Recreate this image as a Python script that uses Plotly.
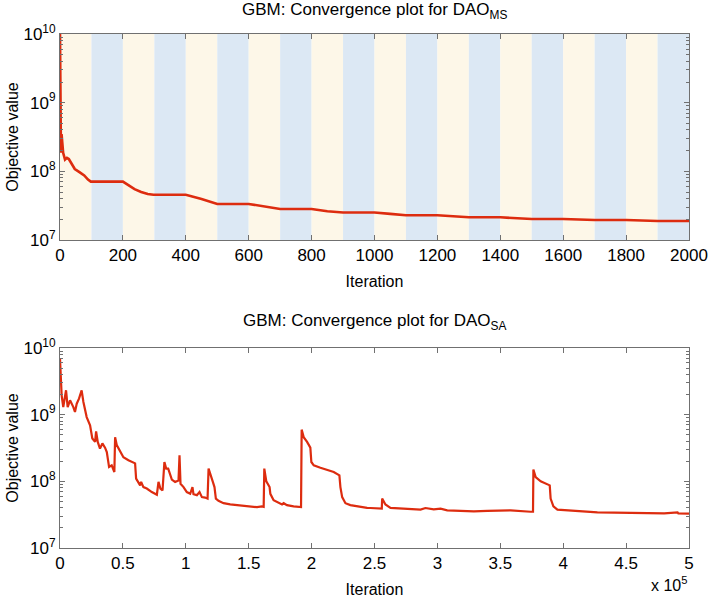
import plotly.graph_objects as go

# ---------------- data ----------------
ms_iter = [0, 3, 5, 8, 10, 16, 22, 28, 37, 47, 63, 77, 89, 98, 200, 216, 237, 258, 279, 297,
           400, 450, 500, 600, 650, 700, 800, 850, 900, 1000, 1050, 1100, 1200, 1250, 1300,
           1400, 1450, 1500, 1600, 1650, 1700, 1800, 1850, 1900, 2000]
ms_obj = [1e10, 1.86e8, 3.47e8, 2.6e8, 1.86e8, 1.48e8, 1.57e8, 1.51e8, 1.26e8, 1.08e8, 9.66e7,
          8.71e7, 7.59e7, 7.08e7, 7.08e7, 6.38e7, 5.5e7, 5.01e7, 4.68e7, 4.55e7,
          4.55e7, 3.96e7, 3.35e7, 3.35e7, 3.06e7, 2.83e7, 2.83e7, 2.62e7, 2.51e7, 2.51e7,
          2.40e7, 2.29e7, 2.29e7, 2.19e7, 2.14e7, 2.14e7, 2.07e7, 2.02e7, 2.02e7, 1.98e7,
          1.96e7, 1.96e7, 1.91e7, 1.89e7, 1.89e7]

sa_iter = [0, 500, 1300, 2600, 4800, 6100, 8000, 10600, 11900, 13300, 15100, 17200, 18600,
           21200, 23900, 25700, 27900, 28700, 30000, 31800, 33700, 35800, 37200, 39000, 41100,
           43200, 43800, 45100, 47800, 50400, 54400, 57600, 59700, 60500, 61800, 63700, 64500,
           66300, 69000, 73000, 77000, 78300, 79800, 81500, 83000, 84400, 86000, 87600, 88900,
           91500, 94200, 95000, 95800, 98200, 100800, 103500, 105300, 106100, 108800, 110900,
           112800, 115400, 117300, 118100, 119900, 121500, 122800, 123900, 126000, 130000,
           135300, 140600, 148600, 156600, 160500, 161900, 162400, 164000, 166600, 167200,
           169800, 173800, 176500, 177800, 180400, 185700, 191600, 192100, 193700, 196400,
           199000, 199800, 201700, 207000, 212300, 217600, 222100, 222900, 224300, 226900,
           230800, 236200, 244100, 246800, 254700, 255800, 256100, 258700, 262700, 270600,
           278600, 286600, 290500, 297100, 302500, 307800, 318400, 329000, 339600, 344900,
           358200, 374100, 376000, 376300, 378100, 382100, 386100, 389300, 390000, 392200,
           395400, 403300, 413900, 427200, 440500, 453700, 467000, 480300, 490900, 491500,
           500000]
sa_obj = [6.9e9, 3.1e9, 1.95e9, 1.3e9, 2.32e9, 1.3e9, 1.64e9, 1.3e9, 1.1e9, 1.46e9, 1.74e9,
          2.32e9, 1.55e9, 9.2e8, 6.9e8, 4.4e8, 3.9e8, 5.6e8, 3.9e8, 3.1e8, 3.7e8, 3.2e8,
          2.75e8, 1.64e8, 1.74e8, 1.38e8, 4.6e8, 3.5e8, 2.75e8, 2.3e8, 2.07e8, 1.95e8, 1.86e8,
          1.1e8, 9.8e7, 8.7e7, 9.8e7, 8.2e7, 7.8e7, 6.9e7, 6.3e7, 9.8e7, 7.8e7, 7.3e7, 1.95e8,
          1.55e8, 1.55e8, 1.3e8, 1.06e8, 9.8e7, 1.03e8, 2.45e8, 9.2e7, 8.2e7, 6.9e7, 6.5e7,
          8.2e7, 6.4e7, 6.2e7, 6.9e7, 5.8e7, 5.7e7, 5.5e7, 1.55e8, 1.16e8, 9.8e7, 8.2e7,
          5.5e7, 5.1e7, 4.7e7, 4.5e7, 4.4e7, 4.2e7, 4.1e7, 4.2e7, 4.15e7, 1.55e8, 1.0e8,
          8.2e7, 6.5e7, 5.2e7, 4.7e7, 4.5e7, 4.7e7, 4.4e7, 4.2e7, 4.1e7, 5.96e8, 4.6e8,
          3.9e8, 3.2e8, 1.95e8, 1.74e8, 1.6e8, 1.5e8, 1.38e8, 1.23e8, 8.2e7, 5.8e7, 4.7e7,
          4.4e7, 4.2e7, 4.0e7, 3.98e7, 3.9e7, 3.9e7, 5.5e7, 4.5e7, 4.0e7, 3.9e7, 3.8e7,
          3.76e7, 3.98e7, 3.8e7, 3.9e7, 3.67e7, 3.6e7, 3.55e7, 3.6e7, 3.6e7, 3.67e7, 3.5e7,
          3.5e7, 1.5e8, 1.16e8, 1.0e8, 9.2e7, 8.7e7, 5.5e7, 4.2e7, 3.76e7, 3.67e7, 3.5e7,
          3.43e7, 3.39e7, 3.35e7, 3.35e7, 3.31e7, 3.43e7, 3.31e7, 3.27e7]

ytick_vals = [1e7, 1e8, 1e9, 1e10]
ytick_text = ["10<sup>7</sup>", "10<sup>8</sup>", "10<sup>9</sup>", "10<sup>10</sup>"]
ms_xticks = [0, 200, 400, 600, 800, 1000, 1200, 1400, 1600, 1800, 2000]
sa_xticks = [0, 50000, 100000, 150000, 200000, 250000, 300000, 350000, 400000, 450000, 500000]
sa_xtext = ["0", "0.5", "1", "1.5", "2", "2.5", "3", "3.5", "4", "4.5", "5"]
stripe_width = 100

# ---------------- figure ----------------
FONT = "Liberation Sans, Arial, Helvetica, sans-serif"
LINE_COLOR = "#DD2C0F"
AX_COLOR = "#707070"
CREAM = "#FDF7E8"
BLUE = "#DCE8F4"

fig = go.Figure()
fig.add_trace(go.Scatter(x=ms_iter, y=ms_obj, mode="lines",
                         line=dict(color=LINE_COLOR, width=2.6), xaxis="x", yaxis="y",
                         showlegend=False, hoverinfo="skip"))
fig.add_trace(go.Scatter(x=sa_iter, y=sa_obj, mode="lines",
                         line=dict(color=LINE_COLOR, width=2.2), xaxis="x2", yaxis="y2",
                         showlegend=False, hoverinfo="skip"))

# alternating background stripes for the top plot
shapes = []
for i, x0 in enumerate(range(0, 2000, stripe_width)):
    shapes.append(dict(type="rect", xref="x", yref="y domain", x0=x0, x1=x0 + stripe_width,
                       y0=0, y1=1, fillcolor=CREAM if i % 2 == 0 else BLUE,
                       line=dict(width=0), layer="below"))

minor_vals = [k * 10 ** e for e in range(7, 10) for k in range(2, 10)]

def yaxis_cfg(domain):
    return dict(type="log", domain=domain, range=[7, 10], tickvals=ytick_vals,
                ticktext=ytick_text, ticks="inside", ticklen=5, tickcolor=AX_COLOR,
                showline=True, linecolor=AX_COLOR, linewidth=1, mirror="allticks",
                showgrid=False, zeroline=False, automargin=False,
                tickfont=dict(family=FONT, size=17, color="black"),
                title=dict(text="Objective value", font=dict(family=FONT, size=16, color="black"),
                           standoff=0),
                minor=dict(tickvals=minor_vals, ticks="inside", ticklen=3, tickcolor=AX_COLOR,
                           showgrid=False))

def xaxis_cfg(anchor, rng, tickvals, ticktext=None):
    d = dict(anchor=anchor, domain=[0, 1], range=rng, tickvals=tickvals, ticks="inside",
             ticklen=5, tickcolor=AX_COLOR, showline=True, linecolor=AX_COLOR, linewidth=1,
             mirror="allticks", showgrid=False, zeroline=False, automargin=False,
             tickfont=dict(family=FONT, size=17, color="black"),
             title=dict(text="Iteration", font=dict(family=FONT, size=16, color="black"),
                        standoff=11))
    if ticktext is not None:
        d["ticktext"] = ticktext
    return d

H = 599
fig.update_layout(
    width=709, height=H,
    margin=dict(l=60, r=20, t=0, b=0),
    paper_bgcolor="white", plot_bgcolor="white",
    xaxis=xaxis_cfg("y", [0, 2000], ms_xticks),
    yaxis=yaxis_cfg([1 - 240 / H, 1 - 34 / H]),
    xaxis2=xaxis_cfg("y2", [0, 500000], sa_xticks, sa_xtext),
    yaxis2=yaxis_cfg([1 - 548 / H, 1 - 348 / H]),
    shapes=shapes,
    annotations=[
        dict(text="GBM: Convergence plot for DAO<sub>MS</sub>", xref="paper", yref="paper",
             x=0.5, y=1 - 11 / H, xanchor="center", yanchor="middle", showarrow=False,
             font=dict(family=FONT, size=17, color="black")),
        dict(text="GBM: Convergence plot for DAO<sub>SA</sub>", xref="paper", yref="paper",
             x=0.5, y=1 - 322 / H, xanchor="center", yanchor="middle", showarrow=False,
             font=dict(family=FONT, size=17, color="black")),
        dict(text="x 10<sup>5</sup>", xref="paper", yref="paper",
             x=1.0, y=1 - 584 / H, xanchor="right", yanchor="middle", showarrow=False,
             font=dict(family=FONT, size=16, color="black")),
    ],
)

fig.write_html("out.html", config={"displayModeBar": False},
               post_script="document.body.style.margin='0';")
